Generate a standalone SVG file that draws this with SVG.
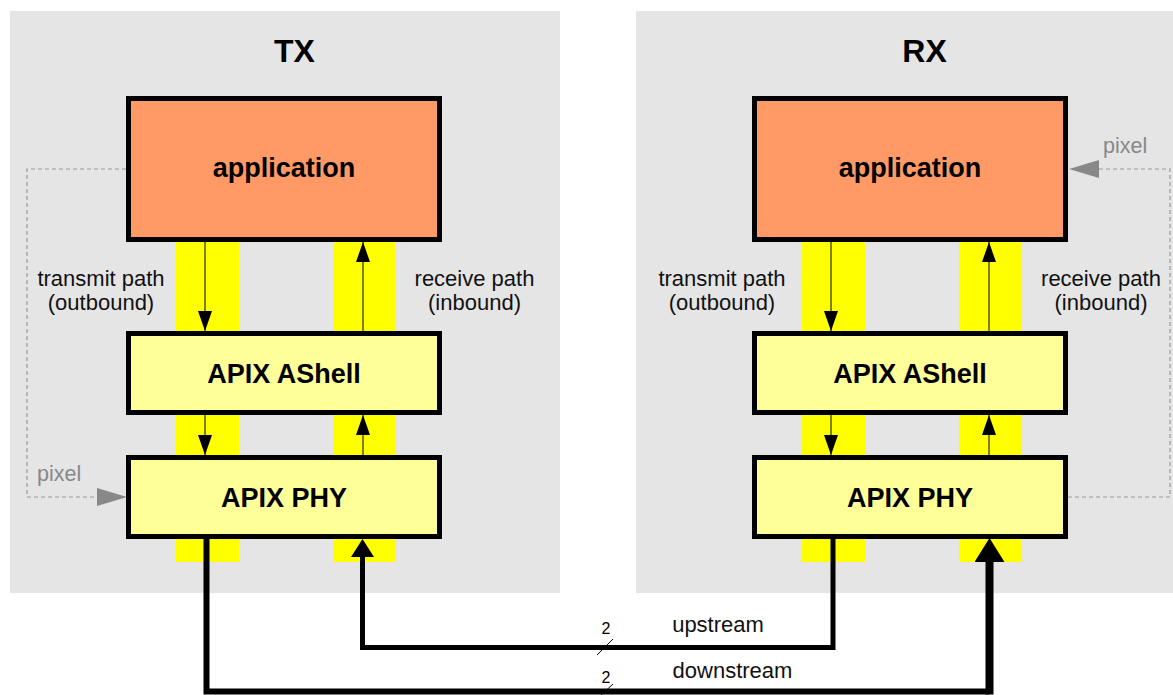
<svg xmlns="http://www.w3.org/2000/svg" width="1173" height="695" viewBox="0 0 1173 695">
<style>
.panel{fill:#e5e5e5}
.bar{fill:#ffff00}
.app{fill:#ff9966;stroke:#000;stroke-width:5}
.blk{fill:#ffff99;stroke:#000;stroke-width:5}
.title{font-family:"Liberation Sans",Arial,sans-serif;font-weight:bold;font-size:32px;text-anchor:middle;fill:#000}
.btxt{font-family:"Liberation Sans",Arial,sans-serif;font-weight:bold;font-size:27px;text-anchor:middle;fill:#000}
.lbl{font-family:"Liberation Sans",Arial,sans-serif;font-size:22px;text-anchor:middle;fill:#111}
.pix{font-family:"Liberation Sans",Arial,sans-serif;font-size:21.5px;fill:#888}
.num{font-family:"Liberation Sans",Arial,sans-serif;font-size:16px;text-anchor:middle;fill:#000}
.thin{fill:none;stroke:#000;stroke-width:1;marker-end:url(#ah)}
.dash{fill:none;stroke:#999;stroke-width:1.2;stroke-dasharray:4 3}
</style>
<defs>
<marker id="ah" markerUnits="userSpaceOnUse" markerWidth="20" markerHeight="14" refX="20" refY="7" orient="auto"><path d="M0,0 L20,7 L0,14 z" fill="#000"/></marker>
<marker id="ahUp" markerUnits="userSpaceOnUse" markerWidth="18" markerHeight="23" refX="0" refY="11.5" orient="auto"><path d="M0,0 L18,11.5 L0,23 z" fill="#000"/></marker>
<marker id="ahBig" markerUnits="userSpaceOnUse" markerWidth="24" markerHeight="30" refX="0" refY="15" orient="auto"><path d="M0,0 L24,15 L0,30 z" fill="#000"/></marker>
<marker id="ahGray" markerUnits="userSpaceOnUse" markerWidth="30" markerHeight="18" refX="0" refY="9" orient="auto"><path d="M0,0 L30,9 L0,18 z" fill="#888"/></marker>
</defs>

<g id="tx-panel">
<rect class="panel" x="10" y="11" width="550" height="582"/>
<text class="title" x="294.5" y="62">TX</text>
</g>
<g id="rx-panel">
<rect class="panel" x="636" y="11" width="550" height="582"/>
<text class="title" x="924.5" y="62">RX</text>
</g>

<g id="path-bars">
<rect class="bar" x="176" y="240" width="63" height="322"/>
<rect class="bar" x="333" y="240" width="63" height="322"/>
<rect class="bar" x="802" y="240" width="63" height="322"/>
<rect class="bar" x="959" y="240" width="63" height="322"/>
</g>

<g id="path-labels">
<text class="lbl" x="101" y="286">transmit path</text>
<text class="lbl" x="101" y="310">(outbound)</text>
<text class="lbl" x="474.5" y="286">receive path</text>
<text class="lbl" x="474.5" y="310">(inbound)</text>
<text class="lbl" x="722" y="286">transmit path</text>
<text class="lbl" x="722" y="310">(outbound)</text>
<text class="lbl" x="1101" y="286">receive path</text>
<text class="lbl" x="1101" y="310">(inbound)</text>
</g>

<g id="tx-app">
<rect class="app" x="128.5" y="98.5" width="311" height="141"/>
<text class="btxt" x="284" y="177">application</text>
</g>
<g id="tx-ashell">
<rect class="blk" x="128.5" y="333.5" width="311" height="79"/>
<text class="btxt" x="284" y="383">APIX AShell</text>
</g>
<g id="tx-phy">
<rect class="blk" x="128.5" y="457.5" width="311" height="79"/>
<text class="btxt" x="284" y="507">APIX PHY</text>
</g>
<g id="rx-app">
<rect class="app" x="754.5" y="98.5" width="311" height="141"/>
<text class="btxt" x="910" y="177">application</text>
</g>
<g id="rx-ashell">
<rect class="blk" x="754.5" y="333.5" width="311" height="79"/>
<text class="btxt" x="910" y="383">APIX AShell</text>
</g>
<g id="rx-phy">
<rect class="blk" x="754.5" y="457.5" width="311" height="79"/>
<text class="btxt" x="910" y="507">APIX PHY</text>
</g>

<g id="connectors">
<path class="thin" d="M205,242 V331"/>
<path class="thin" d="M205,415 V455"/>
<path class="thin" d="M363,331 V242"/>
<path class="thin" d="M363,455 V415"/>
<path class="thin" d="M831,242 V331"/>
<path class="thin" d="M831,415 V455"/>
<path class="thin" d="M989,331 V242"/>
<path class="thin" d="M989,455 V415"/>

<path class="dash" d="M126,169 H27 V497 H97" marker-end="url(#ahGray)"/>
<path class="dash" d="M1068,497 H1170 V169 H1099" marker-end="url(#ahGray)"/>

<path d="M833,539 V647.5 H362.5 V557" fill="none" stroke="#000" stroke-width="5" marker-end="url(#ahUp)"/>
<path d="M206.5,539 V691.5 H989.5" fill="none" stroke="#000" stroke-width="6"/>
<path d="M989.5,694.5 V562" fill="none" stroke="#000" stroke-width="8" marker-end="url(#ahBig)"/>

<line x1="597" y1="655" x2="613" y2="639" stroke="#000" stroke-width="1"/>
<line x1="597" y1="699" x2="613" y2="684" stroke="#000" stroke-width="1"/>
</g>

<g id="connector-labels">
<text class="pix" x="37" y="481">pixel</text>
<text class="pix" x="1103" y="153">pixel</text>
<text class="num" x="606" y="634">2</text>
<text class="num" x="606" y="683">2</text>
<text class="lbl" x="718" y="632">upstream</text>
<text class="lbl" x="732.5" y="678">downstream</text>
</g>
</svg>
